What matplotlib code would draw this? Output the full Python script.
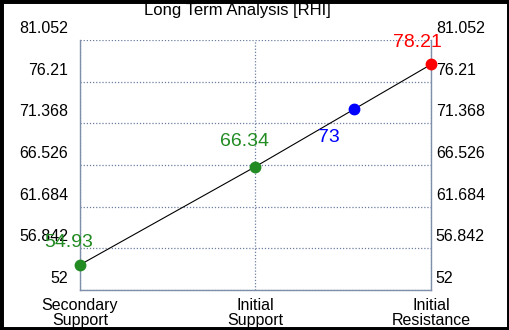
"""Long term analysis chart for RHI"""
import matplotlib
matplotlib.use("Agg")
import matplotlib.pyplot as plt
import matplotlib.transforms as mtransforms
from matplotlib.patches import Rectangle

plt.rcParams['font.family'] = ['Liberation Sans', 'DejaVu Sans']

# levels along the line
level_names = ["Secondary\nSupport", "Initial\nSupport", "Initial\nResistance"]
level_values = [54.93, 66.34, 78.21]
level_colors = ["#228B22", "#228B22", "#ff0000"]

# current price sits on the line
current_price = 73

y_ticks = [52, 56.842, 61.684, 66.526, 71.368, 76.21, 81.052]
y_tick_labels = ["52", "56.842", "61.684", "66.526", "71.368", "76.21", "81.052"]

fig = plt.figure(figsize=(5.1, 3.3), dpi=100)
ax = fig.add_axes([80 / 510, 40 / 330, 351 / 510, 250 / 330])

x = range(len(level_values))
ax.plot(x, level_values, color="black", lw=0.8, zorder=2)

for i, val in enumerate(level_values):
    ax.plot(i, val, "o", color=level_colors[i], ms=7.5, zorder=3, clip_on=False)

# value labels, offsets in points from each point
ax.annotate("54.93", (0, level_values[0]), xytext=(-8, 16), textcoords="offset points",
            ha="center", va="center", color="#228B22", fontsize=14)
ax.annotate("66.34", (1, level_values[1]), xytext=(-8, 18), textcoords="offset points",
            ha="center", va="center", color="#228B22", fontsize=14)
ax.annotate("78.21", (2, level_values[2]), xytext=(-9.5, 16), textcoords="offset points",
            ha="center", va="center", color="#ff0000", fontsize=14)

# blue point on the line between initial support and initial resistance
x_cur = 1 + (current_price - level_values[1]) / (level_values[2] - level_values[1])
ax.plot(x_cur, current_price, "o", color="#0000ff", ms=7.5, zorder=3)
ax.annotate(str(current_price), (x_cur, current_price), xytext=(-18, -20),
            textcoords="offset points", ha="center", va="center",
            color="#0000ff", fontsize=14)

ax.set_xlim(0, 2)
ax.set_ylim(y_ticks[0], y_ticks[-1])
ax.set_xticks(list(x))
ax.set_xticklabels(level_names, fontsize=11.5, linespacing=0.95)
ax.set_yticks(y_ticks)
ax.set_yticklabels(y_tick_labels, fontsize=11.5)
ax.tick_params(axis="y", which="both", left=False, right=False, length=0,
               labelleft=True, labelright=True, pad=8.5)
ax.tick_params(axis="x", length=0, pad=6)

# tick labels sit above their grid lines
up = mtransforms.ScaledTranslation(0, 13 / 100, fig.dpi_scale_trans)
up_left = mtransforms.ScaledTranslation(-7 / 100, 13 / 100, fig.dpi_scale_trans)
for tick in ax.yaxis.get_major_ticks():
    tick.label1.set_transform(tick.label1.get_transform() + up)
    tick.label2.set_transform(tick.label2.get_transform() + up_left)

ax.grid(True, color="#6d7fa0", linestyle=(0, (1, 1.5)), lw=0.9)
for side in ["left", "right", "bottom"]:
    ax.spines[side].set_color("#7d8fab")
    ax.spines[side].set_linewidth(1.0)
ax.spines["top"].set_visible(False)

fig.text(237 / 510, 1 - 10 / 330, "Long Term Analysis [RHI]", fontsize=12,
         ha="center", va="center")

# black frame round the picture
fig.patches.append(Rectangle((0, 0), 1, 1, transform=fig.transFigure,
                             fill=False, edgecolor="black", lw=5, zorder=10))

fig.savefig("out.png", dpi=100)
